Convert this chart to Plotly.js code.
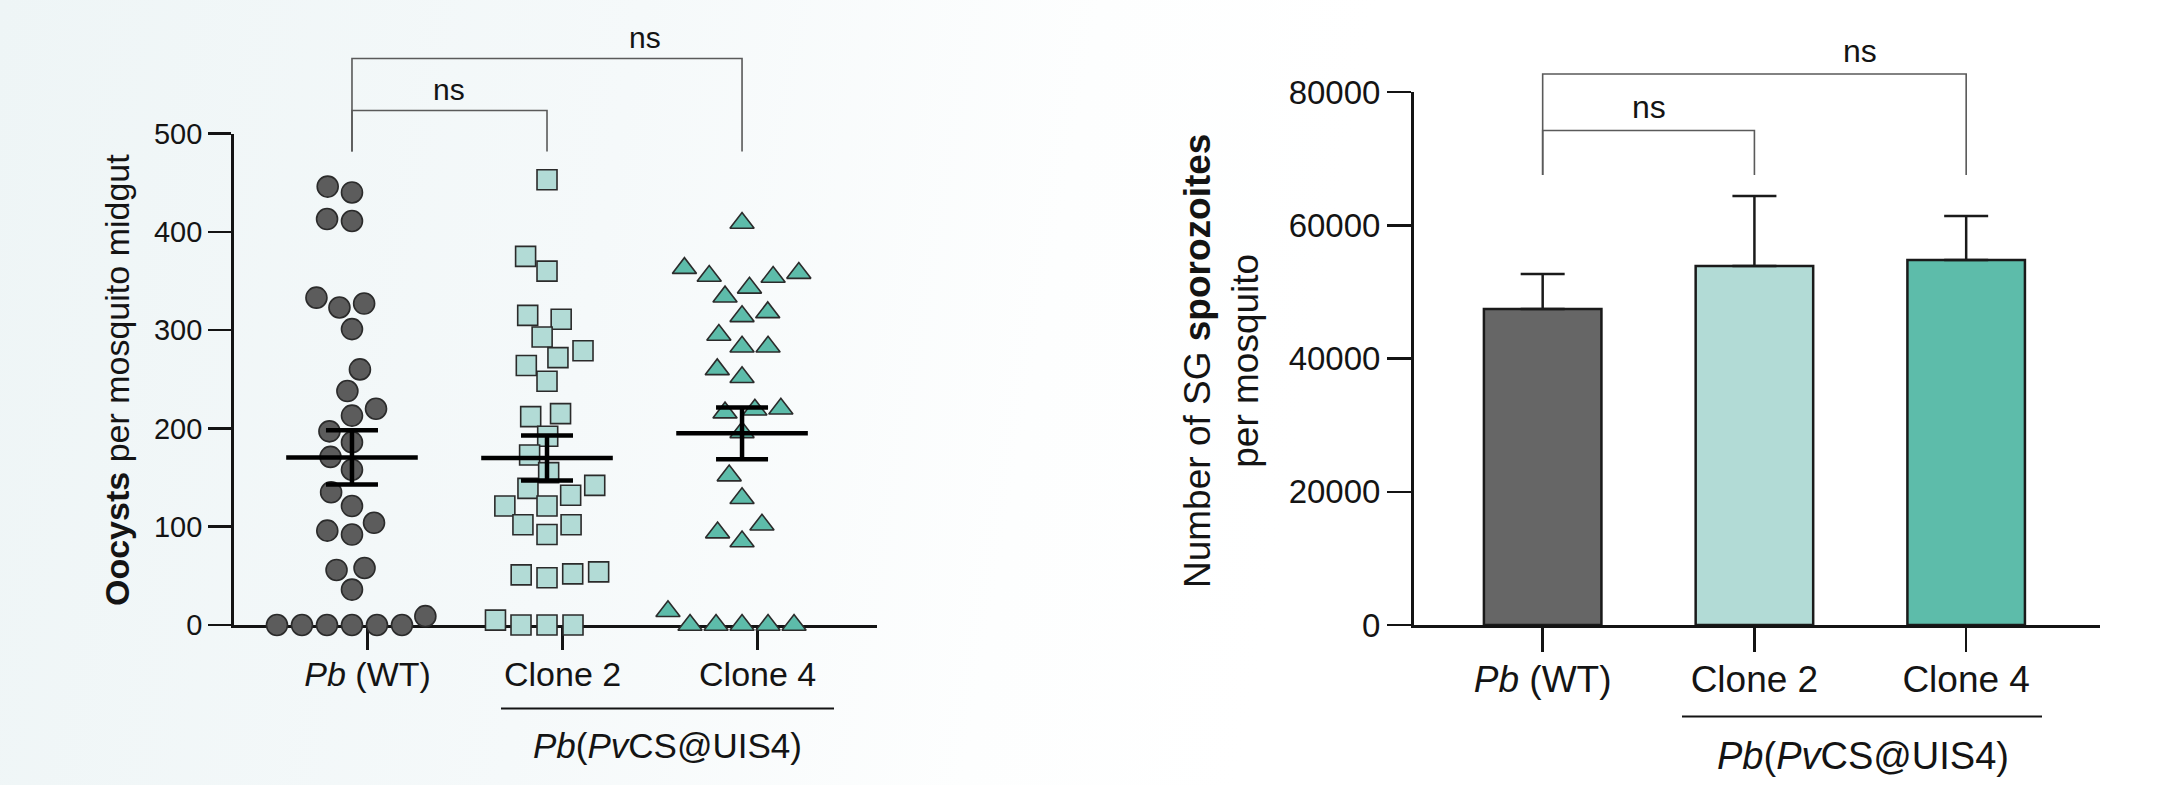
<!DOCTYPE html>
<html>
<head>
<meta charset="utf-8">
<script src="https://cdn.plot.ly/plotly-3.0.1.min.js"></script>
<style>
  html, body { margin: 0; padding: 0; }
  body { width: 2158px; height: 785px; overflow: hidden;
         background: linear-gradient(100deg, #eef5f6 0%, #f5f9fa 28%, #fdfefe 48%, #ffffff 60%); }
  #chart { width: 2158px; height: 785px; }
</style>
</head>
<body>
<div id="chart"></div>
<script>
// ---------------- data ----------------
const groups = ['<i>Pb</i> (WT)', 'Clone 2', 'Clone 4'];
const groupLabel = '<i>Pb</i>(<i>Pv</i>CS@UIS4)';
const compareLabel = 'ns';

// Oocysts per mosquito midgut (individual mosquitoes)
const oocystsWT = [446, 440, 413, 411, 333, 323, 327, 301, 260, 238, 220, 213, 197, 186, 171, 158, 135, 121, 104, 92, 96, 56, 58, 36, 9, 0, 0, 0, 0, 0, 0];
const oocystsClone2 = [453, 375, 360, 311, 315, 293, 272, 279, 264, 248, 215, 212, 192, 173, 155, 139, 132, 142, 121, 121, 102, 102, 92, 54, 51, 48, 52, 0, 0, 0, 5];
const oocystsClone4 = [409, 363, 358, 354, 355, 343, 334, 314, 318, 295, 283, 283, 260, 252, 220, 216, 219, 196, 152, 129, 102, 94, 85, 14, 0, 0, 0, 0, 0];
const oocystsMean = [170.5, 170, 195];
const oocystsSEM = [27.6, 22.9, 26.3];
const oocystsTicks = [0, 100, 200, 300, 400, 500];

// Salivary gland sporozoites per mosquito
const sporoMean = [47430, 53880, 54780];
const sporoSEM = [5250, 10510, 6610];
const sporoTicks = [0, 20000, 40000, 60000, 80000];

// ---------------- layout geometry ----------------
const W = 2158, H = 785;
const FONT = 'Liberation Sans, Arial, Helvetica, sans-serif';
const INK = '#141414';
const L = { x0: 233.6, x1: 877, top: 133.5, bottom: 625, xr: [-0.607, 2.692], yr: [0, 500] };
const R = { x0: 1413.5, x1: 2100, top: 92, bottom: 625, xr: [-0.61, 2.632], yr: [0, 80000] };

const px = (p, v) => p.x0 + (v - p.xr[0]) / (p.xr[1] - p.xr[0]) * (p.x1 - p.x0);
const pxX = v => v / W, pxY = v => 1 - v / H;

// beeswarm offsets (in category units) so markers do not overlap
function swarm(vals, d, p) {
  const pyPerUnit = (p.bottom - p.top) / (p.yr[1] - p.yr[0]);
  const pxPerUnit = (p.x1 - p.x0) / (p.xr[1] - p.xr[0]);
  const order = vals.map((v, i) => i).sort((a, b) => vals[a] - vals[b]);
  const placed = [], off = new Array(vals.length).fill(0);
  for (const i of order) {
    const y = vals[i] * pyPerUnit;
    const cands = [0];
    for (const q of placed) {
      const dy = Math.abs(q.y - y);
      if (dy < d) { const dx = Math.sqrt(d * d - dy * dy); cands.push(q.x + dx, q.x - dx); }
    }
    cands.sort((a, b) => (Math.abs(a) - Math.abs(b)) || (a - b));
    for (const c of cands) {
      if (placed.every(q => (q.x - c) ** 2 + (q.y - y) ** 2 >= d * d - 1e-6)) {
        placed.push({ x: c, y }); off[i] = c / pxPerUnit; break;
      }
    }
  }
  return off;
}

const series = [
  { vals: oocystsWT, symbol: 'circle', size: 21, color: '#5c5c5c', d: 25 },
  { vals: oocystsClone2, symbol: 'square', size: 20, color: '#b2dbd6', d: 26 },
  { vals: oocystsClone4, symbol: 'triangle-up', size: 21, color: '#5dbcaa', d: 26 }
];

const traces = series.map((s, g) => {
  const off = swarm(s.vals, s.d, L);
  return {
    type: 'scatter', mode: 'markers', xaxis: 'x', yaxis: 'y',
    x: s.vals.map((v, i) => g + off[i]), y: s.vals,
    cliponaxis: false, hoverinfo: 'y',
    marker: { symbol: s.symbol, size: s.size, color: s.color, line: { color: '#2b2b2b', width: 1.6 } }
  };
});

traces.push({
  type: 'scatter', mode: 'markers', xaxis: 'x', yaxis: 'y',
  x: [0, 1, 2], y: oocystsMean, cliponaxis: false,
  marker: { symbol: 'line-ew', size: 94, line: { color: '#000', width: 4.5 } },
  error_y: { type: 'data', array: oocystsSEM, visible: true, width: 26, thickness: 4.5, color: '#000' }
});

traces.push({
  type: 'bar', xaxis: 'x2', yaxis: 'y2',
  x: [0, 1, 2], y: sporoMean, width: 0.555,
  marker: { color: ['#666666', '#b2dbd6', '#5dbcaa'], line: { color: '#1a1a1a', width: 2.5 } },
  error_y: { type: 'data', symmetric: false, array: sporoSEM, arrayminus: [0, 0, 0], visible: true,
             width: 22, thickness: 2.5, color: '#1a1a1a' }
});

function xAxis(p, tickShift, fontSize, ticklen) {
  return {
    domain: [pxX(p.x0), pxX(p.x1)], range: p.xr,
    tickvals: groups.map((_, i) => i + tickShift), ticktext: groups,
    tickfont: { family: FONT, size: fontSize, color: INK },
    ticks: 'outside', ticklen: ticklen, tickwidth: 2.5, tickcolor: INK, ticklabelstandoff: -4,
    showline: true, linewidth: 2.5, linecolor: INK,
    showgrid: false, zeroline: false, layer: 'below traces', fixedrange: true
  };
}
function yAxis(p, ticks, fontSize, ticklen, anchor) {
  return {
    domain: [pxY(p.bottom), pxY(p.top)], range: p.yr, anchor: anchor,
    tickvals: ticks, ticktext: ticks.map(String),
    tickfont: { family: FONT, size: fontSize, color: INK },
    ticks: 'outside', ticklen: ticklen, tickwidth: 2.5, tickcolor: INK,
    showline: true, linewidth: 2.5, linecolor: INK,
    showgrid: false, zeroline: false, layer: 'below traces', fixedrange: true
  };
}

// significance brackets
const shapes = [], annotations = [];
function brackets(p, levels, bottom, fontSize, gap) {
  [[0, 1], [0, 2]].forEach(([a, b], k) => {
    const xa = pxX(px(p, a)), xb = pxX(px(p, b));
    const yl = pxY(levels[k]), yb = pxY(bottom);
    shapes.push({ type: 'path', xref: 'paper', yref: 'paper',
      path: `M${xa},${yb} L${xa},${yl} L${xb},${yl} L${xb},${yb}`,
      line: { color: '#5a5a5a', width: 1.6 } });
    annotations.push({ xref: 'paper', yref: 'paper', x: pxX(px(p, (b - 1 + b) / 2)), y: pxY(levels[k] - gap),
      text: compareLabel, showarrow: false, xanchor: 'center', yanchor: 'middle',
      font: { family: FONT, size: fontSize, color: INK } });
  });
}
brackets(L, [110.5, 58.5], 151.5, 30, 21);
brackets(R, [130.5, 74], 175, 32, 23);

// group underline + label
function groupBar(xa, xb, y, tx, ty, fontSize) {
  shapes.push({ type: 'line', xref: 'paper', yref: 'paper', x0: pxX(xa), x1: pxX(xb), y0: pxY(y), y1: pxY(y),
    line: { color: INK, width: 1.8 } });
  annotations.push({ xref: 'paper', yref: 'paper', x: pxX(tx), y: pxY(ty), text: groupLabel, showarrow: false,
    xanchor: 'center', yanchor: 'middle', font: { family: FONT, size: fontSize, color: INK } });
}
groupBar(501, 834, 708.5, 667.6, 745, 35);
groupBar(1682, 2042, 716.5, 1863.4, 756, 38);

// y-axis titles
annotations.push({ xref: 'paper', yref: 'paper', x: pxX(117), y: pxY(380), textangle: -90,
  text: '<b>Oocysts</b> per mosquito midgut', showarrow: false, xanchor: 'center', yanchor: 'middle',
  font: { family: FONT, size: 34, color: INK } });
annotations.push({ xref: 'paper', yref: 'paper', x: pxX(1221), y: pxY(361), textangle: -90,
  text: 'Number of SG <b>sporozoites</b><br>per mosquito', showarrow: false, xanchor: 'center', yanchor: 'middle',
  align: 'center', font: { family: FONT, size: 37, color: INK } });

const layout = {
  width: W, height: H, margin: { l: 0, r: 0, t: 0, b: 0 },
  paper_bgcolor: 'rgba(0,0,0,0)', plot_bgcolor: 'rgba(0,0,0,0)',
  showlegend: false, font: { family: FONT, color: INK },
  xaxis: xAxis(L, 0.08, 34, 22), yaxis: yAxis(L, oocystsTicks, 29, 23, 'x'),
  xaxis2: xAxis(R, 0, 37, 24), yaxis2: yAxis(R, sporoTicks, 33, 24, 'x2'),
  shapes: shapes, annotations: annotations, bargap: 0.2
};
layout.xaxis2.anchor = 'y2';
layout.xaxis.anchor = 'y';

Plotly.newPlot('chart', traces, layout, { displayModeBar: false, staticPlot: true });
</script>
</body>
</html>
